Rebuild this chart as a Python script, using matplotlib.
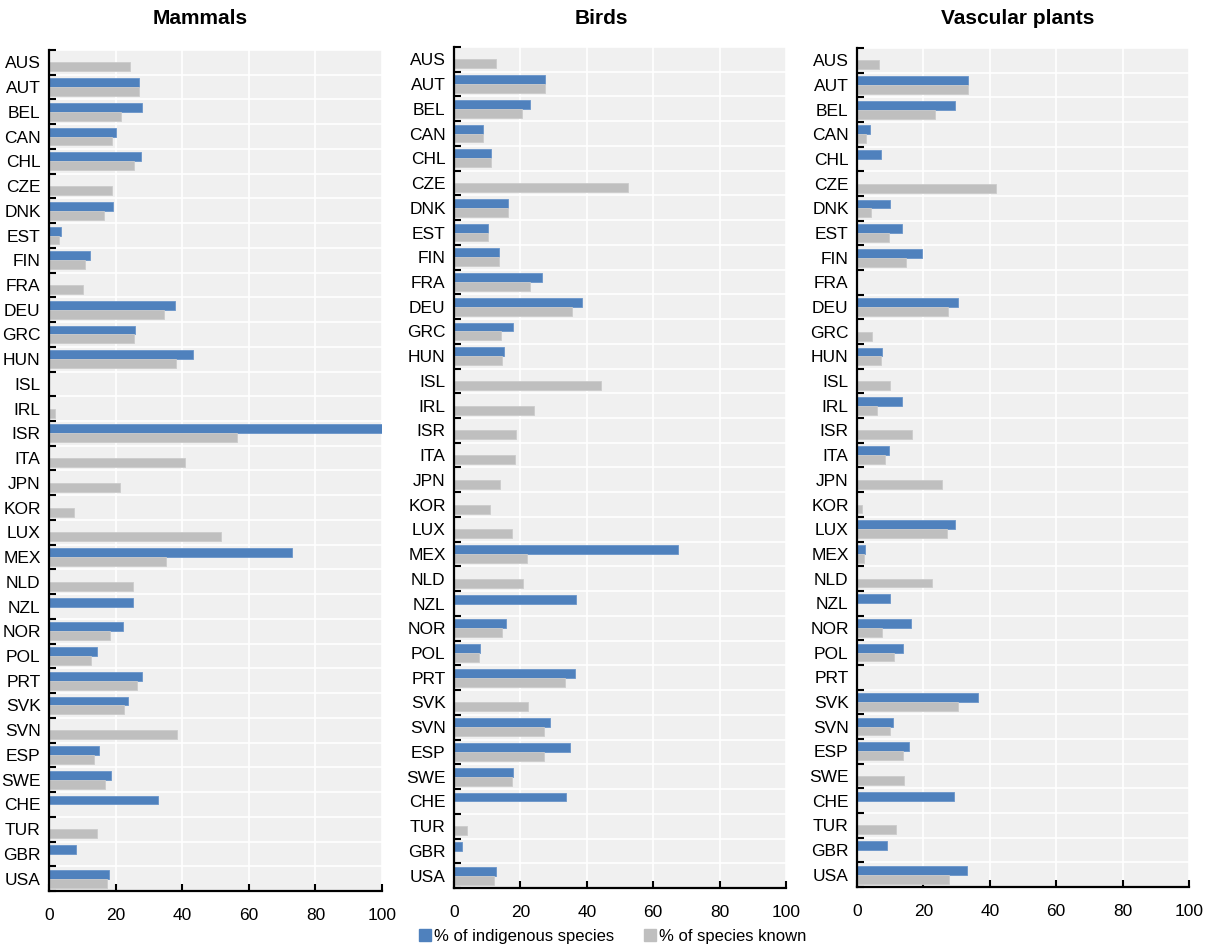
import matplotlib
matplotlib.use("Agg")
import matplotlib.pyplot as plt
import numpy as np
from matplotlib.patches import Patch

plt.rcParams['font.family'] = ['Liberation Sans Narrow', 'Liberation Sans', 'DejaVu Sans']

countries = ["AUS", "AUT", "BEL", "CAN", "CHL", "CZE", "DNK", "EST", "FIN", "FRA",
             "DEU", "GRC", "HUN", "ISL", "IRL", "ISR", "ITA", "JPN", "KOR", "LUX",
             "MEX", "NLD", "NZL", "NOR", "POL", "PRT", "SVK", "SVN", "ESP", "SWE",
             "CHE", "TUR", "GBR", "USA"]

n = np.nan
mammals_indigenous = [n, 27.0, 27.9, 20.0, 27.7, n, 19.1, 3.5, 12.2, n,
                      37.8, 25.8, 43.2, n, n, 100.0, n, n, n, n,
                      72.9, n, 25.2, 22.1, 14.3, 28.0, 23.7, n, 14.9, 18.5,
                      32.7, n, 8.0, 17.9]
mammals_known = [24.4, 27.0, 21.5, 19.0, 25.4, 18.8, 16.5, 2.9, 10.8, 10.1,
                 34.5, 25.4, 38.1, n, 1.8, 56.4, 40.8, 21.3, 7.4, 51.6,
                 35.2, 25.2, n, 18.3, 12.5, 26.4, 22.4, 38.4, 13.4, 16.8,
                 n, 14.4, n, 17.3]

birds_indigenous = [n, 27.4, 22.8, 8.8, 11.1, n, 16.4, 10.3, 13.7, 26.5,
                    38.7, 17.9, 15.1, n, n, n, n, n, n, n,
                    67.4, n, 36.7, 15.7, 7.8, 36.5, n, 29.0, 34.8, 17.9,
                    33.8, n, 2.5, 12.8]
birds_known = [12.8, 27.4, 20.6, 8.7, 11.0, 52.5, 16.4, 10.2, 13.5, 22.8,
               35.6, 14.3, 14.6, 44.2, 24.2, 18.7, 18.5, 14.0, 10.8, 17.6,
               22.0, 20.8, n, 14.6, 7.6, 33.4, 22.4, 27.2, 27.0, 17.6,
               n, 3.8, n, 12.1]

plants_indigenous = [n, 33.5, 29.6, 3.8, 7.2, n, 9.9, 13.5, 19.7, n,
                     30.5, n, 7.4, n, 13.5, n, 9.5, n, n, 29.5,
                     2.4, n, 10.0, 16.4, 13.8, n, 36.4, 10.8, 15.6, n,
                     29.1, n, 9.0, 33.1]
plants_known = [6.6, 33.5, 23.4, 2.8, n, 41.9, 4.1, 9.5, 14.7, n,
                27.5, 4.4, 7.2, 9.8, 5.9, 16.7, 8.4, 25.6, 1.5, 27.0,
                2.2, 22.6, n, 7.5, 11.1, n, 30.4, 9.8, 13.8, 14.3,
                n, 11.8, n, 27.6]

titles = ["Mammals", "Birds", "Vascular plants"]
series = [(mammals_indigenous, mammals_known),
          (birds_indigenous, birds_known),
          (plants_indigenous, plants_known)]
xticks = [0, 20, 40, 60, 80, 100]
legend_labels = ["% of indigenous species", "% of species known"]

BLUE = "#4f81bd"
GRAY = "#bfbfbf"
BG = "#f0f0f0"

W, H = 1208, 946
fig = plt.figure(figsize=(W / 100, H / 100), dpi=100)

# axes boxes in pixels: left, right, top, bottom
boxes = [(49, 382, 50, 891), (454, 786, 47, 888), (857, 1189, 48, 887)]
title_x = [200, 601, 1018]

y = np.arange(len(countries))
bh = 0.36
for i, ((l, r, t, b), title, (ind, known)) in enumerate(zip(boxes, titles, series)):
    ax = fig.add_axes([l / W, 1 - b / H, (r - l) / W, (b - t) / H])
    ax.set_facecolor(BG)
    ax.barh(y - 0.18, np.nan_to_num(ind), height=bh, color=BLUE, zorder=3,
            edgecolor="#6a95c9", linewidth=0.6)
    ax.barh(y + 0.18, np.nan_to_num(known), height=bh, color=GRAY, zorder=3,
            edgecolor="#cccccc", linewidth=0.6)
    ax.set_xlim(0, 100)
    ax.set_ylim(len(countries) - 0.5, -0.5)
    ax.set_xticks(xticks)
    ax.set_xticklabels([str(v) for v in xticks], fontsize=12.5)
    ax.set_yticks(y)
    ax.set_yticklabels(countries, fontsize=12.5)
    ax.tick_params(axis='y', which='major', length=0, pad=6)
    ax.set_yticks(np.arange(-0.5, len(countries) - 0.5 + 0.01, 1.0), minor=True)
    ax.tick_params(axis='y', which='minor', direction='in', length=5, width=1.5, color='black')
    ax.tick_params(axis='x', which='major', direction='in', length=5, width=1.5, pad=12)
    # grid lines
    for v in xticks[1:]:
        ax.axvline(v, color='white', lw=1.2, zorder=1)
    for k in np.arange(-0.5, len(countries) - 0.5, 1.0):
        ax.axhline(k, color='white', lw=1.2, zorder=1)
    for s in ["top", "right"]:
        ax.spines[s].set_visible(False)
    for s in ["left", "bottom"]:
        ax.spines[s].set_linewidth(1.6)
        ax.spines[s].set_color('black')
        ax.spines[s].set_zorder(5)
    fig.text(title_x[i] / W, 1 - 19 / H, title, ha='center', va='center',
             fontsize=15, fontweight='bold', family=['Liberation Sans', 'DejaVu Sans'])

handles = [Patch(facecolor=BLUE, edgecolor=BLUE), Patch(facecolor=GRAY, edgecolor=GRAY)]
fig.legend(handles, legend_labels, loc='center', bbox_to_anchor=(613 / W, 1 - 936 / H),
           ncol=2, frameon=False, fontsize=12, handlelength=0.7, handleheight=0.7,
           handletextpad=0.2, columnspacing=1.8, borderaxespad=0)

fig.savefig("out.png", dpi=100)
